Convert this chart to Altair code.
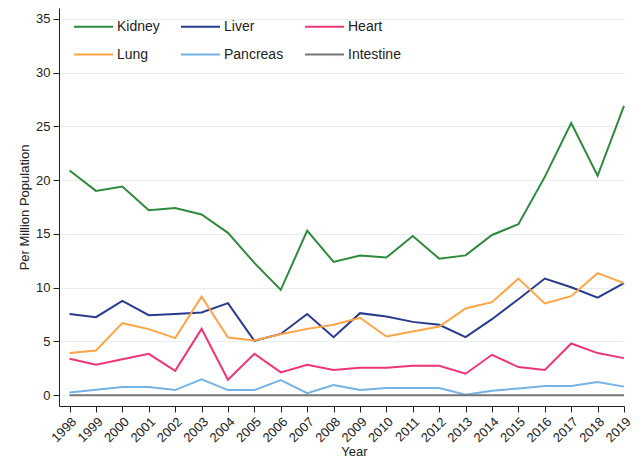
import altair as alt
import pandas as pd

years = list(range(1998, 2020))
organs = ["Kidney", "Liver", "Heart", "Lung", "Pancreas", "Intestine"]
colors = ["#2e8b3c", "#283a8e", "#ee3577", "#ffa446", "#74b3e6", "#777777"]

kidney = [20.9, 19.0, 19.4, 17.2, 17.4, 16.8, 15.1, 12.3, 9.8, 15.3, 12.4, 13.0,
          12.8, 14.8, 12.7, 13.0, 14.9, 15.9, 20.3, 25.3, 20.4, 26.9]
liver = [7.56, 7.26, 8.77, 7.44, 7.56, 7.69, 8.56, 5.06, 5.7, 7.56, 5.4, 7.63,
         7.32, 6.82, 6.55, 5.4, 7.07, 8.93, 10.85, 10.04, 9.08, 10.42]
heart = [3.39, 2.83, 3.35, 3.85, 2.27, 6.17, 1.44, 3.85, 2.12, 2.83, 2.34, 2.55,
         2.55, 2.74, 2.74, 2.0, 3.76, 2.62, 2.34, 4.81, 3.92, 3.45]
lung = [3.92, 4.16, 6.7, 6.15, 5.31, 9.17, 5.37, 5.09, 5.68, 6.17, 6.55, 7.2,
        5.46, 5.92, 6.39, 8.06, 8.65, 10.85, 8.53, 9.21, 11.35, 10.42]
pancreas = [0.26, 0.51, 0.76, 0.76, 0.48, 1.47, 0.48, 0.48, 1.41, 0.2, 0.95, 0.48,
            0.67, 0.67, 0.67, 0.05, 0.42, 0.63, 0.85, 0.85, 1.22, 0.8]
intestine = [0.0] * 22

series = {"Kidney": kidney, "Liver": liver, "Heart": heart, "Lung": lung,
          "Pancreas": pancreas, "Intestine": intestine}

rows = []
for organ in organs:
    for y, v in zip(years, series[organ]):
        rows.append({"Year": y, "Organ": organ, "Value": v})
df = pd.DataFrame(rows)

chart = alt.Chart(df).mark_line(strokeWidth=2).encode(
    x=alt.X("Year:Q", scale=alt.Scale(domain=[1997.6, 2019], nice=False, zero=False),
            axis=alt.Axis(values=years, format="d", labelAngle=-45, labelAlign="right",
                          labelBaseline="top", grid=False, titleX=295, titleY=39,
                          titleBaseline="top",
                          labelOverlap=False, labelBound=False, labelFlush=False)),
    y=alt.Y("Value:Q", title="Per Million Population",
            scale=alt.Scale(domain=[-1, 36], nice=False, zero=False),
            axis=alt.Axis(values=[0, 5, 10, 15, 20, 25, 30, 35], grid=True)),
    color=alt.Color("Organ:N", scale=alt.Scale(domain=organs, range=colors), title=None,
                    legend=alt.Legend(orient="none", legendX=14, legendY=-2, columns=3,
                                      direction="horizontal", symbolType="stroke",
                                      symbolSize=1521, symbolStrokeWidth=2,
                                      labelFontSize=14, labelOffset=3, columnPadding=17,
                                      rowPadding=0, gridAlign="each")),
    strokeWidth=alt.condition(alt.datum.Organ == "Intestine", alt.value(3), alt.value(2)),
    order="Year:Q",
).properties(
    width=565, height=398,
    autosize=alt.AutoSizeParams(type="none"),
    padding={"left": 51, "top": 0, "right": 11, "bottom": 53},
).configure_view(stroke=None).configure_axis(
    labelFont="Liberation Sans", titleFont="Liberation Sans", labelFontSize=13,
    titleFontSize=13, titleFontWeight="normal", labelColor="#222", titleColor="#222",
    domainColor="#222", tickColor="#222", tickSize=6, gridColor="#e6eef0",
    labelPadding=3,
).configure_legend(labelFont="Liberation Sans", labelColor="#222")

chart.save("out.html", embed_options={"renderer": "svg", "actions": False})
